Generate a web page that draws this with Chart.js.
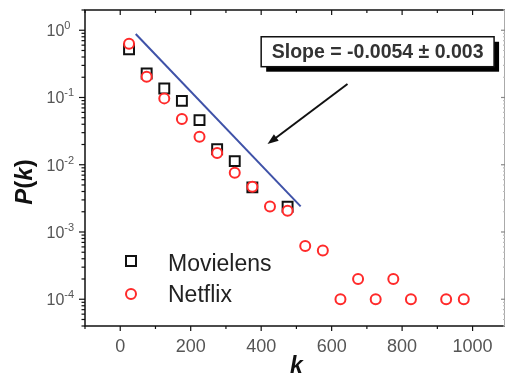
<!DOCTYPE html>
<html>
<head>
<meta charset="utf-8">
<script src="https://cdn.jsdelivr.net/npm/chart.js@4/dist/chart.umd.min.js"></script>
<style>
  html, body { margin: 0; padding: 0; background: #fff; }
  canvas { display: block; }
</style>
</head>
<body>
<canvas id="chart" width="514" height="377"></canvas>
<script>
// data
const movielensK = [25, 75, 125, 175, 225, 275, 325, 375, 475];
const movielensP = [0.52, 0.227, 0.136, 0.089, 0.046, 0.017, 0.0113, 0.0046, 0.00237];
const netflixK = [25, 75, 125, 175, 225, 275, 325, 375, 425, 475, 525, 575, 625, 675, 725, 775, 825, 925, 975];
const netflixP = [0.63, 0.203, 0.097, 0.048, 0.026, 0.015, 0.0076, 0.0047, 0.0024, 0.00207, 0.00062, 0.00053, 0.0001, 0.0002, 0.0001, 0.0002, 0.0001, 0.0001, 0.0001];
const fitK = [44, 512];
const fitP = [0.88, 0.0024];

const xTicks = [0, 200, 400, 600, 800, 1000];
const xMinorTicks = [-100, 100, 300, 500, 700, 900];
const yDecades = [0, -1, -2, -3, -4];

const noteText = 'Slope = -0.0054 \u00b1 0.003';
const noteBoxK = [400, 1061];
const noteBoxP = [0.80, 0.287];
const arrowK = [645, 418];
const arrowP = [0.159, 0.0203];

const FONT = "'Liberation Sans', Arial, sans-serif";
const toPoints = (ks, ps) => ks.map((k, i) => ({ x: k, y: ps[i] }));

function seg(ctx, x1, y1, x2, y2) {
  ctx.beginPath();
  ctx.moveTo(x1, y1);
  ctx.lineTo(x2, y2);
  ctx.stroke();
}

// axes frame, ticks, labels, legend and the slope note
const decor = {
  id: 'decor',
  afterDraw(chart) {
    const ctx = chart.ctx;
    const a = chart.chartArea;
    const xs = chart.scales.x, ys = chart.scales.y;
    ctx.save();

    // frame
    ctx.strokeStyle = '#111';
    ctx.lineWidth = 1.5;
    ctx.beginPath();
    ctx.moveTo(a.right, a.top);
    ctx.lineTo(a.left, a.top);
    ctx.lineTo(a.left, a.bottom);
    ctx.lineTo(a.right, a.bottom);
    ctx.stroke();
    ctx.strokeStyle = '#aaa';
    ctx.lineWidth = 1;
    seg(ctx, a.right - 0.5, a.top, a.right - 0.5, a.bottom);

    // x ticks (bottom out, top in)
    ctx.strokeStyle = '#111';
    ctx.lineWidth = 1.2;
    xTicks.forEach(v => {
      const px = xs.getPixelForValue(v);
      seg(ctx, px, a.bottom, px, a.bottom + 5);
      seg(ctx, px, a.top, px, a.top + 5);
    });
    xMinorTicks.forEach(v => {
      const px = xs.getPixelForValue(v);
      seg(ctx, px, a.bottom, px, a.bottom + 3);
      seg(ctx, px, a.top, px, a.top + 3);
    });

    // y ticks (left out, right in)
    yDecades.forEach(d => {
      const py = ys.getPixelForValue(Math.pow(10, d));
      ctx.strokeStyle = '#111';
      seg(ctx, a.left - 6, py, a.left, py);
      ctx.strokeStyle = '#888';
      seg(ctx, a.right, py, a.right - 4, py);
    });
    for (let d = -5; d <= 0; d++) {
      for (let m = 2; m <= 9; m++) {
        const v = m * Math.pow(10, d);
        if (v < ys.min || v > ys.max) continue;
        const py = ys.getPixelForValue(v);
        ctx.strokeStyle = '#111';
        seg(ctx, a.left - 3.5, py, a.left, py);
        ctx.strokeStyle = '#bbb';
        seg(ctx, a.right, py, a.right - 2, py);
      }
    }

    // tick labels
    ctx.fillStyle = '#555';
    ctx.font = '18px ' + FONT;
    ctx.textAlign = 'center';
    ctx.textBaseline = 'alphabetic';
    xTicks.forEach(v => {
      ctx.fillText(String(v), xs.getPixelForValue(v), a.bottom + 25.5);
    });
    ctx.textAlign = 'left';
    yDecades.forEach(d => {
      const py = ys.getPixelForValue(Math.pow(10, d));
      ctx.font = '16px ' + FONT;
      ctx.fillText('10', 46.5, py + 6);
      const w = ctx.measureText('10').width;
      ctx.font = '11px ' + FONT;
      ctx.fillText(d === 0 ? '0' : '-' + (-d), 46.5 + w, py - 1);
    });

    // axis titles
    ctx.fillStyle = '#111';
    ctx.textAlign = 'center';
    ctx.font = 'italic bold 23px ' + FONT;
    ctx.fillText('k', xs.getPixelForValue(500), 373);

    ctx.save();
    ctx.translate(31.5, 182);
    ctx.rotate(-Math.PI / 2);
    const parts = [['P', 'italic bold 24px '], ['(', 'bold 24px '], ['k', 'italic bold 24px '], [')', 'bold 24px ']];
    let total = 0;
    parts.forEach(p => { ctx.font = p[1] + FONT; total += ctx.measureText(p[0]).width; });
    let cx = -total / 2;
    ctx.textAlign = 'left';
    parts.forEach(p => {
      ctx.font = p[1] + FONT;
      ctx.fillText(p[0], cx, 0);
      cx += ctx.measureText(p[0]).width;
    });
    ctx.restore();

    // legend
    ctx.lineWidth = 2;
    ctx.fillStyle = '#fff';
    ctx.strokeStyle = '#111';
    ctx.fillRect(126, 256, 10, 10);
    ctx.strokeRect(126, 256, 10, 10);
    ctx.strokeStyle = '#ff2a2a';
    ctx.beginPath();
    ctx.arc(131, 294, 5, 0, Math.PI * 2);
    ctx.fill();
    ctx.stroke();
    ctx.fillStyle = '#222';
    ctx.font = '23px ' + FONT;
    ctx.textAlign = 'left';
    ctx.fillText('Movielens', 168, 270.5);
    ctx.fillText('Netflix', 168, 301.5);

    // slope note with drop shadow
    const bl = xs.getPixelForValue(noteBoxK[0]);
    const br = xs.getPixelForValue(noteBoxK[1]);
    const bt = ys.getPixelForValue(noteBoxP[0]);
    const bb = ys.getPixelForValue(noteBoxP[1]);
    ctx.fillStyle = '#000';
    ctx.fillRect(bl + 5, bt + 5, br - bl, bb - bt);
    ctx.fillStyle = '#fff';
    ctx.fillRect(bl, bt, br - bl, bb - bt);
    ctx.strokeStyle = '#111';
    ctx.lineWidth = 1.5;
    ctx.strokeRect(bl, bt, br - bl, bb - bt);
    ctx.fillStyle = '#333';
    ctx.font = 'bold 19.5px ' + FONT;
    ctx.textAlign = 'center';
    ctx.textBaseline = 'middle';
    ctx.fillText(noteText, (bl + br) / 2, (bt + bb) / 2 + 1);

    // arrow
    const x1 = xs.getPixelForValue(arrowK[0]), y1 = ys.getPixelForValue(arrowP[0]);
    const x2 = xs.getPixelForValue(arrowK[1]), y2 = ys.getPixelForValue(arrowP[1]);
    const ang = Math.atan2(y2 - y1, x2 - x1);
    ctx.strokeStyle = '#111';
    ctx.lineWidth = 2;
    seg(ctx, x1, y1, x2 - 6 * Math.cos(ang), y2 - 6 * Math.sin(ang));
    ctx.fillStyle = '#111';
    ctx.beginPath();
    ctx.moveTo(x2, y2);
    ctx.lineTo(x2 - 11 * Math.cos(ang) + 4 * Math.sin(ang), y2 - 11 * Math.sin(ang) - 4 * Math.cos(ang));
    ctx.lineTo(x2 - 11 * Math.cos(ang) - 4 * Math.sin(ang), y2 - 11 * Math.sin(ang) + 4 * Math.cos(ang));
    ctx.closePath();
    ctx.fill();

    ctx.restore();
  }
};

new Chart(document.getElementById('chart'), {
  type: 'scatter',
  data: {
    datasets: [
      {
        label: 'Netflix',
        data: toPoints(netflixK, netflixP),
        pointStyle: 'circle',
        pointRadius: 5,
        pointBorderWidth: 2,
        borderColor: '#ff2a2a',
        backgroundColor: '#fff',
        order: 0
      },
      {
        label: 'Movielens',
        data: toPoints(movielensK, movielensP),
        pointStyle: 'rect',
        pointRadius: 7,
        pointBorderWidth: 2,
        borderColor: '#111',
        backgroundColor: '#fff',
        order: 1
      },
      {
        label: 'fit',
        data: toPoints(fitK, fitP),
        showLine: true,
        pointRadius: 0,
        borderColor: '#3f52a8',
        borderWidth: 2,
        order: 2
      }
    ]
  },
  options: {
    responsive: false,
    animation: false,
    layout: { padding: { left: 85, top: 10, right: 1, bottom: 51 } },
    plugins: { legend: { display: false }, tooltip: { enabled: false } },
    scales: {
      x: { type: 'linear', min: -100, max: 1092, display: false },
      y: { type: 'logarithmic', min: 4e-5, max: 2, display: false }
    }
  },
  plugins: [decor]
});
</script>
</body>
</html>
